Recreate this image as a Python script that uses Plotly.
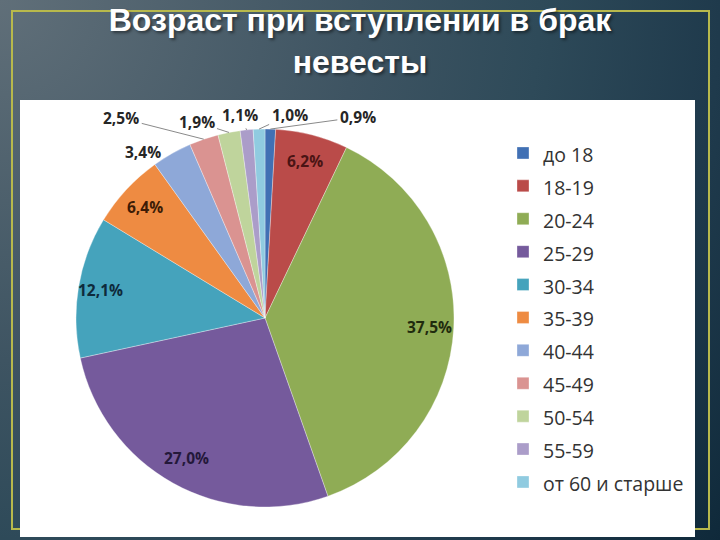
import base64
import math
import plotly.graph_objects as go

# ---------------- data ----------------
categories = ["до 18", "18-19", "20-24", "25-29", "30-34", "35-39",
              "40-44", "45-49", "50-54", "55-59", "от 60 и старше"]
shares = [0.9, 6.2, 37.5, 27.0, 12.1, 6.4, 3.4, 2.5, 1.9, 1.1, 1.0]
title_text = "Возраст при вступлении в брак<br>невесты"

# ---------------- style ----------------
slice_colors = ["#4170B4", "#BA4B49", "#8FAC55", "#755A9C", "#45A3BC", "#EE8B42",
                "#8EA8D8", "#DA9391", "#BFD49C", "#AB9DC9", "#90CBE0"]
W, H = 720, 540
CX, CY, R = 265, 318, 189          # pie centre / radius in page pixels

# inside labels: radius factor and text colour
inside = {1: (0.86, "#4a1414"), 2: (0.87, "#1f2b0e"), 3: (0.85, "#24183a"),
          4: (0.88, "#0e2a3b"), 5: (0.865, "#3d1c06")}
# outside labels: pixel offset of the text from the slice edge, leader line?
outside = {0: (87.5, -12, True), 6: (-29, -1.5, False), 7: (-82.5, -21, True),
           8: (-32.5, -10.5, True), 9: (-7, -15, True), 10: (30.5, -14, True)}

legend_labels = [f"<span style='font-size:19.5px'>{c}</span>" for c in categories]
label_font = dict(family="Open Sans", size=15.5, weight="bold")

fig = go.Figure(go.Pie(
    labels=legend_labels,
    values=shares,
    sort=False,
    direction="clockwise",
    rotation=0,
    marker=dict(colors=slice_colors, line=dict(color="rgba(255,255,255,0.55)", width=0.6)),
    textinfo="none",
    hoverinfo="skip",
    domain=dict(x=[(CX - R) / W, (CX + R) / W], y=[(H - CY - R) / H, (H - CY + R) / H]),
))

# data labels, positioned from the slice angles
total = sum(shares)
cum = 0.0
annotations = []
for i, v in enumerate(shares):
    theta = 2 * math.pi * (cum + v / 2) / total
    cum += v
    txt = f"{v:.1f}".replace(".", ",") + "%"
    if i in inside:
        f, col = inside[i]
        px = CX + f * R * math.sin(theta)
        py = CY - f * R * math.cos(theta)
        annotations.append(dict(x=px / W, y=1 - py / H, xref="paper", yref="paper",
                                xanchor="center", yanchor="middle",
                                text=txt, showarrow=False,
                                font=dict(label_font, color=col)))
    else:
        ox, oy, arrow = outside[i]
        px = CX + R * math.sin(theta)
        py = CY - R * math.cos(theta)
        a = dict(x=px / W, y=1 - py / H, xref="paper", yref="paper", text=txt,
                 xanchor="center", yanchor="middle",
                 font=dict(label_font, color="#262626"))
        if arrow:
            a.update(showarrow=True, ax=ox, ay=oy, arrowhead=0, arrowwidth=1,
                     arrowcolor="#8a8a8a", standoff=0, startstandoff=1)
        else:
            a.update(showarrow=False, xshift=ox, yshift=-oy)
        annotations.append(a)

# slide background gradient
svg = (f'<svg xmlns="http://www.w3.org/2000/svg" width="{W}" height="{H}">'
       '<defs><radialGradient id="g" gradientUnits="userSpaceOnUse" cx="0" cy="0" r="900">'
       '<stop offset="0" stop-color="#606f79"/><stop offset="0.4" stop-color="#3e5462"/>'
       '<stop offset="0.6" stop-color="#2e4a59"/><stop offset="0.8" stop-color="#1f3a4c"/>'
       '<stop offset="1" stop-color="#0f293a"/></radialGradient></defs>'
       f'<rect width="{W}" height="{H}" fill="url(#g)"/></svg>')
src = "data:image/svg+xml;base64," + base64.b64encode(svg.encode("utf-8")).decode()
fig.add_layout_image(source=src, xref="paper", yref="paper", x=0, y=1, sizex=1, sizey=1,
                     xanchor="left", yanchor="top", sizing="stretch", layer="below")

shapes = [
    dict(type="rect", xref="paper", yref="paper", x0=12 / W, x1=709 / W,
         y0=1 - 529 / H, y1=1 - 11 / H, line=dict(color="#b8b94c", width=2),
         fillcolor="rgba(0,0,0,0)", layer="below"),
    dict(type="rect", xref="paper", yref="paper", x0=20 / W, x1=695 / W,
         y0=1 - 537 / H, y1=1 - 100 / H, line=dict(width=0),
         fillcolor="#ffffff", layer="below"),
]

fig.update_layout(
    width=W, height=H,
    margin=dict(l=0, r=0, t=0, b=0),
    paper_bgcolor="#2e4a59",
    plot_bgcolor="rgba(0,0,0,0)",
    shapes=shapes,
    annotations=annotations,
    title=dict(text=title_text, x=0.5, xanchor="center", xref="container",
               y=1 - 31 / H, yanchor="top", yref="container",
               font=dict(family="Liberation Sans", size=32, color="#ffffff", weight="bold",
                         shadow="2px 2px 3px rgba(0,0,0,0.45)")),
    legend=dict(x=503 / W, xanchor="left", y=1 - 131.5 / H, yanchor="top",
                bgcolor="rgba(0,0,0,0)", borderwidth=0,
                font=dict(family="Open Sans", size=23, color="#333333")),
    showlegend=True,
)

fig.write_html("out.html")
